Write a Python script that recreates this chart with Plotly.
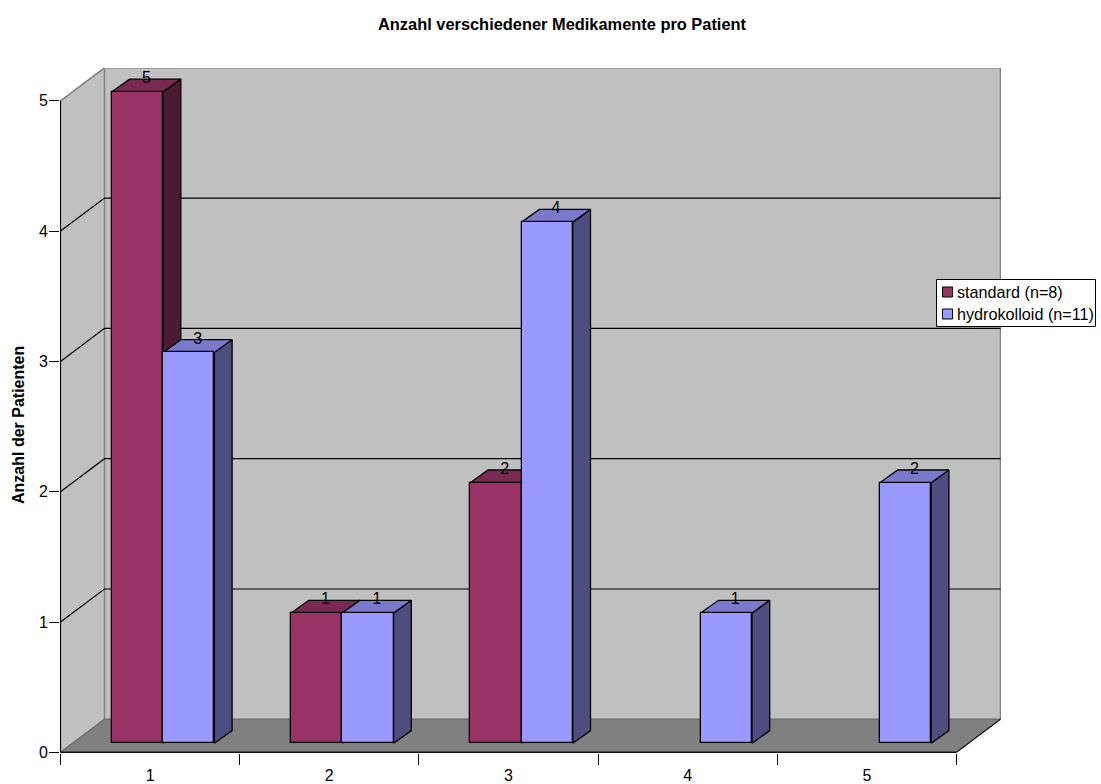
import plotly.graph_objects as go

# ---- data ----
categories = [1, 2, 3, 4, 5]
category_labels = ["1", "2", "3", "4", "5"]
standard_values = [5, 1, 2, None, None]
hydrokolloid_values = [3, 1, 4, 1, 2]
y_ticks = [0, 1, 2, 3, 4, 5]
series_names = ["standard (n=8)", "hydrokolloid (n=11)"]
title_text = "Anzahl verschiedener Medikamente pro Patient"
y_title = "Anzahl der Patienten"

# ---- 3D projection constants, in axis units ----
FONT = "Liberation Sans, Arial, sans-serif"
WALL_DX, WALL_DY = 0.2455, 0.2533      # depth of the whole box
BAR_DX, BAR_DY = 0.0988, 0.0975        # depth of one bar
BAR_BASE = 0.069                       # bars stand in the middle of the floor
BAR_W = 0.286
SHIFT = {"standard": -0.0703, "hydro": 0.2158}
X0, X1 = 0.5, 5.5
YMAX = y_ticks[-1]
COL = {
    "standard": ("#993366", "#7a2952", "#4d1a33"),
    "hydro": ("#9999ff", "#7a7acc", "#4d4d80"),
}
WALL, FLOOR, EDGE = "#c0c0c0", "#808080", "#808080"

fig = go.Figure()


def poly(xs, ys, fill, line="black", width=1.0):
    fig.add_trace(go.Scatter(x=xs, y=ys, mode="lines", fill="toself", fillcolor=fill,
                             line=dict(color=line, width=width), showlegend=False,
                             hoverinfo="skip", cliponaxis=False))


def path(xs, ys, color="black", width=1.0):
    fig.add_trace(go.Scatter(x=xs, y=ys, mode="lines", line=dict(color=color, width=width),
                             showlegend=False, hoverinfo="skip", cliponaxis=False))


bx0, bx1 = X0 + WALL_DX, X1 + WALL_DX
top = YMAX + WALL_DY
# walls and floor
poly([X0, bx0, bx0, X0], [0, WALL_DY, top, YMAX], WALL, WALL, 0.1)
poly([bx0, bx1, bx1, bx0], [WALL_DY, WALL_DY, top, top], WALL, WALL, 0.1)
poly([X0, bx0, bx1, X1], [0, WALL_DY, WALL_DY, 0], FLOOR, FLOOR, 0.1)
# box edges
path([X0, bx0, bx1, bx1], [YMAX, top, top, WALL_DY], EDGE, 1.5)
path([bx0, bx0], [top, WALL_DY], EDGE, 1.5)
path([X0, bx0, bx1], [0, WALL_DY, WALL_DY], "#6e6e6e", 1.5)
path([X1, bx1], [0, WALL_DY], "#111111", 1.1)
# grid lines
for v in y_ticks[1:-1]:
    path([X0, bx0, bx1], [v, v + WALL_DY, v + WALL_DY], "#000000", 1.2)
# axis lines
path([X0, X0], [0, YMAX], "black", 1.2)
path([X0, X1], [0, 0], "#111111", 1.6)

# side and top faces
for key, vals in (("standard", standard_values), ("hydro", hydrokolloid_values)):
    _, top_c, side_c = COL[key]
    for c, v in zip(categories, vals):
        if v is None:
            continue
        xa = c + SHIFT[key] - BAR_W / 2
        xb = c + SHIFT[key] + BAR_W / 2
        yt = BAR_BASE + v
        poly([xb, xb, xb + BAR_DX, xb + BAR_DX, xb],
             [BAR_BASE, yt, yt + BAR_DY, BAR_BASE + BAR_DY, BAR_BASE], side_c, "black", 1.3)
        poly([xa, xb, xb + BAR_DX, xa + BAR_DX, xa],
             [yt, yt, yt + BAR_DY, yt + BAR_DY, yt], top_c, "black", 1.3)

# front faces: real bars on an overlay axis pair, so they sit above the faces
for key, vals, name in (("standard", standard_values, series_names[0]),
                        ("hydro", hydrokolloid_values, series_names[1])):
    fig.add_trace(go.Bar(x=[c + SHIFT[key] for c in categories], y=vals, base=BAR_BASE,
                         width=BAR_W, name=name, xaxis="x2", yaxis="y2", showlegend=False,
                         marker=dict(color=COL[key][0], line=dict(color="black", width=1.3))))

# value labels
for key, vals in (("standard", standard_values), ("hydro", hydrokolloid_values)):
    xs, ys, ts = [], [], []
    for c, v in zip(categories, vals):
        if v is None:
            continue
        xs.append(c + SHIFT[key] + BAR_DX / 2)
        ys.append(BAR_BASE + v + BAR_DY)
        ts.append(str(v))
    fig.add_trace(go.Scatter(x=xs, y=ys, text=ts, mode="text", textposition="middle center",
                             textfont=dict(family=FONT, size=16, color="black"),
                             xaxis="x2", yaxis="y2", showlegend=False, hoverinfo="skip",
                             cliponaxis=False))

xrange_ = [0.4972, 5.7483]
yrange_ = [-0.0054, 5.2517]
W, H = 1101, 784
ML, MR, MT, MB = 60, 100, 68, 31
PW, PH = W - ML - MR, H - MT - MB


def px(x):
    return (x - ML) / PW


def py(y):
    return (H - MB - y) / PH


# legend box
shapes = [dict(type="rect", xref="paper", yref="paper", x0=px(936.5), x1=px(1095.5), y0=py(279.5), y1=py(326.5),
               fillcolor="white", line=dict(color="black", width=1))]
annots = []
for (ky, key, name) in ((292, "standard", series_names[0]), (314, "hydro", series_names[1])):
    shapes.append(dict(type="rect", xref="paper", yref="paper", x0=px(942.5), x1=px(952.5),
                       y0=py(ky - 5), y1=py(ky + 5), fillcolor=COL[key][0], line=dict(color="black", width=1)))
    annots.append(dict(xref="paper", yref="paper", x=px(955), y=py(ky), text=name, showarrow=False,
                       xanchor="left", yanchor="middle", xshift=0,
                       font=dict(family=FONT, size=16.2, color="black")))
annots.append(dict(xref="paper", yref="paper", x=px(18), y=py(425), text=y_title, showarrow=False,
                   textangle=-90, xanchor="center", yanchor="middle",
                   font=dict(family=FONT, size=16, color="black", weight="bold")))

fig.update_layout(
    width=W, height=H, autosize=False,
    margin=dict(l=ML, r=MR, t=MT, b=MB, pad=0),
    paper_bgcolor="white", plot_bgcolor="white",
    barmode="overlay", bargap=0,
    showlegend=False,
    title=dict(text=title_text, x=562 / W, y=1 - 24 / H, xanchor="center", yanchor="middle",
               font=dict(family=FONT, size=16.4, color="black", weight="bold")),
    font=dict(family=FONT, size=16, color="black"),
    shapes=shapes, annotations=annots,
    xaxis=dict(range=xrange_, tickmode="array", tickvals=categories, ticktext=category_labels,
               automargin=False,
               ticks="outside", ticklen=8, tickcolor="rgba(0,0,0,0)", showgrid=False, zeroline=False,
               showline=False, tickfont=dict(family=FONT, size=16, color="black"),
               minor=dict(tickmode="array", tickvals=[0.5, 1.5, 2.5, 3.5, 4.5, 5.5], ticks="outside",
                          ticklen=11, tickcolor="black", tickwidth=1, showgrid=False)),
    yaxis=dict(range=yrange_, tickmode="array", tickvals=y_ticks, ticks="outside", ticklen=10,
               automargin=False, ticklabelstandoff=-2,
               tickcolor="black", tickwidth=1, showgrid=False, zeroline=False, showline=False,
               tickfont=dict(family=FONT, size=16, color="black")),
    xaxis2=dict(range=xrange_, overlaying="x", visible=False),
    yaxis2=dict(range=yrange_, overlaying="y", visible=False),
)

fig.write_html("out.html", post_script="document.body.style.margin='0';",
               config={"displayModeBar": False})
